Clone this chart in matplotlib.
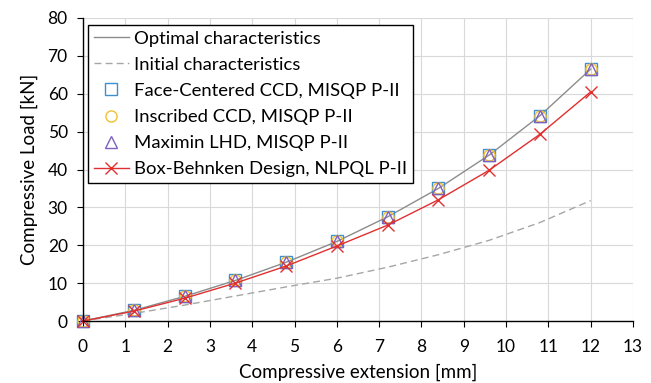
import matplotlib
matplotlib.use("Agg")
import matplotlib.pyplot as plt
import numpy as np

x = [0, 1.2, 2.4, 3.6, 4.8, 6.0, 7.2, 8.4, 9.6, 10.8, 12.0]
optimal = [0, 2.8, 6.5, 10.7, 15.5, 21.0, 27.5, 35.0, 43.8, 54.2, 66.5]
initial = [0, 2.0, 4.2, 6.6, 9.0, 11.3, 14.2, 17.5, 21.3, 26.0, 31.8]
face_centered = [0, 2.8, 6.5, 10.7, 15.5, 21.0, 27.5, 35.0, 43.8, 54.2, 66.5]
inscribed = [0, 2.8, 6.5, 10.7, 15.5, 21.0, 27.5, 35.0, 43.8, 54.2, 66.5]
maximin = [0, 2.8, 6.5, 10.7, 15.5, 21.0, 27.5, 35.0, 43.8, 54.2, 66.5]
box_behnken = [0, 2.6, 6.0, 10.0, 14.5, 19.8, 25.3, 32.0, 39.8, 49.3, 60.5]

plt.rcParams['font.family'] = ['Lato', 'DejaVu Sans']
fig = plt.figure(figsize=(6.51, 3.83), dpi=100)
ax = fig.add_axes([83/651, 1-321/383, 550/651, 303/383])

ax.plot(x, optimal, color='#8c8c8c', lw=1.0, label='Optimal characteristics', clip_on=False)
ax.plot(x, initial, color='#a6a6a6', lw=1.0, ls=(0, (5, 3)), label='Initial characteristics', clip_on=False)
ax.plot(x, face_centered, ls='none', marker='s', ms=9, mfc='none', mec='#3d8fd1', mew=1.0,
        label='Face-Centered CCD, MISQP P-II', clip_on=False)
ax.plot(x, inscribed, ls='none', marker='o', ms=8, mfc='none', mec='#f2c12e', mew=1.0,
        label='Inscribed CCD, MISQP P-II', clip_on=False)
ax.plot(x, maximin, ls='none', marker='^', ms=8, mfc='none', mec='#7f5fbf', mew=1.0,
        label='Maximin LHD, MISQP P-II', clip_on=False)
ax.plot(x, box_behnken, color='#e03030', lw=1.0, marker='x', ms=8, mew=1.0,
        label='Box-Behnken Design, NLPQL P-II', clip_on=False)

ax.set_xlim(0, 13)
ax.set_ylim(0, 80)
ax.set_xticks(range(0, 14))
ax.set_yticks(range(0, 81, 10))
ax.grid(True, color='#d9d9d9', lw=0.8)
ax.set_axisbelow(True)
for s in ['top', 'right']:
    ax.spines[s].set_visible(False)
for s in ['left', 'bottom']:
    ax.spines[s].set_color('black')
    ax.spines[s].set_linewidth(1.0)
ax.tick_params(axis='both', labelsize=12.5, direction='out', length=4, color='black')
ax.tick_params(axis='x', pad=9)
ax.tick_params(axis='y', pad=7)
ax.set_xlabel('Compressive extension [mm]', fontsize=13.5, labelpad=6)
ax.set_ylabel('Compressive Load [kN]', fontsize=13.5, labelpad=7)

leg = ax.legend(loc='upper left', bbox_to_anchor=(5/550, 1-7/303), fontsize=13.3, frameon=True,
                fancybox=False, edgecolor='black', framealpha=1, borderpad=0.3,
                labelspacing=0.55, handlelength=1.9, handletextpad=0.3, borderaxespad=0)
leg.get_frame().set_linewidth(1.0)

fig.savefig('out.png', dpi=100)
